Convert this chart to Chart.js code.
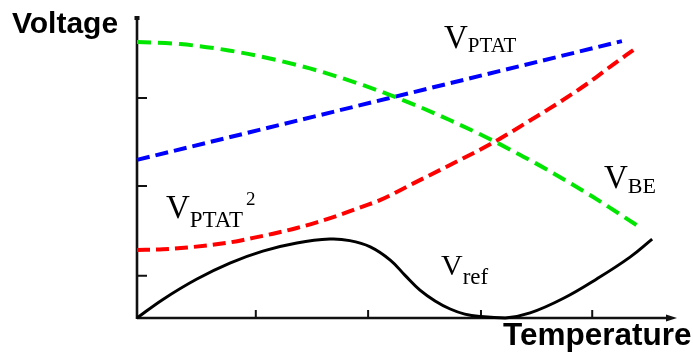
<!DOCTYPE html>
<html><head><meta charset="utf-8">
<script src="https://cdn.jsdelivr.net/npm/chart.js@4"></script>
<style>html,body{margin:0;padding:0;background:#fff;overflow:hidden}</style>
</head><body>
<canvas id="c" width="693" height="360"></canvas>
<script>
// Temperature (arbitrary units 0..100), Voltage (arbitrary units 0..10)
const vbeT  = [0, 8, 17, 24.6, 32, 37, 41.9, 46.9, 51.9, 58, 65.4, 70.9, 75.9, 84.4, 93.1];
const vbeV  = [9.2, 9.13, 8.92, 8.65, 8.32, 8.05, 7.76, 7.43, 7.07, 6.59, 5.96, 5.44, 4.95, 4.04, 3.03];

const ptatT = [0, 89.8];
const ptatV = [5.27, 9.23];

const ptat2T = [0, 4.8, 9.3, 13.5, 17.2, 21.5, 25.2, 29.6, 33.3, 37.6, 41.9, 45, 51.1, 58.5, 65.9, 73.3, 78.3, 83.3, 88.1, 91.9];
const ptat2V = [2.27, 2.29, 2.35, 2.43, 2.52, 2.67, 2.81, 3.0, 3.19, 3.44, 3.72, 3.93, 4.48, 5.15, 5.84, 6.64, 7.2, 7.8, 8.44, 8.93];

const vrefT = [0, 4.8, 11.1, 17.2, 23.3, 29.6, 35.7, 39.4, 43.2, 46.9, 49.6, 52.4, 55.2, 58, 60.7, 63.5, 68.2, 72.8, 78.9, 85.2, 91.3, 95.4];
const vrefV = [0, 0.62, 1.3, 1.83, 2.23, 2.5, 2.63, 2.58, 2.37, 1.93, 1.43, 0.93, 0.57, 0.3, 0.13, 0.05, 0, 0.17, 0.65, 1.31, 2.03, 2.63];

const xTicks = [22, 42.8, 63.7, 84.3];
const yTicks = [1.41, 4.4, 7.33];

const pts = (xs, ys) => xs.map((x, i) => ({x: x, y: ys[i]}));

const axesPlugin = {
  id: 'axes',
  beforeDatasetsDraw(chart) {
    const {ctx, chartArea: a, scales} = chart;
    ctx.save();
    ctx.strokeStyle = '#111';
    ctx.fillStyle = '#111';
    ctx.lineWidth = 2.6;
    ctx.lineCap = 'butt';
    ctx.beginPath();
    ctx.moveTo(a.left, a.top - 1);
    ctx.lineTo(a.left, a.bottom + 1);
    ctx.moveTo(a.left, a.bottom);
    ctx.lineTo(a.right - 8, a.bottom);
    ctx.stroke();
    ctx.fillRect(a.left - 2.5, a.top - 2, 5, 4);
    ctx.beginPath();
    ctx.moveTo(a.right, a.bottom);
    ctx.lineTo(a.right - 11, a.bottom - 3.5);
    ctx.lineTo(a.right - 11, a.bottom + 3.5);
    ctx.closePath();
    ctx.fill();
    ctx.lineWidth = 2;
    ctx.beginPath();
    yTicks.forEach(v => {
      const y = scales.y.getPixelForValue(v);
      ctx.moveTo(a.left, y);
      ctx.lineTo(a.left + 10, y);
    });
    xTicks.forEach(v => {
      const x = scales.x.getPixelForValue(v);
      ctx.moveTo(x, a.bottom);
      ctx.lineTo(x, a.bottom - 8);
    });
    ctx.stroke();
    ctx.restore();
  },
  afterDraw(chart) {
    const ctx = chart.ctx;
    ctx.save();
    ctx.fillStyle = '#000';
    ctx.textBaseline = 'alphabetic';
    ctx.textAlign = 'left';
    ctx.font = 'bold 30px "Liberation Sans", Arial, sans-serif';
    ctx.fillText('Voltage', 12, 33);
    ctx.font = 'bold 31.5px "Liberation Sans", Arial, sans-serif';
    ctx.fillText('Temperature', 503, 345);

    const serif = '"Liberation Serif", "Times New Roman", serif';
    function sub(main, mx, my, mSize, s, sSize, sDy) {
      ctx.font = mSize + 'px ' + serif;
      ctx.fillText(main, mx, my);
      const w = ctx.measureText(main).width;
      ctx.font = sSize + 'px ' + serif;
      ctx.fillText(s, mx + w, my + sDy);
      return mx + w + ctx.measureText(s).width;
    }
    sub('V', 444, 48, 33, 'PTAT', 21, 4);
    const end = sub('V', 166, 218, 33, 'PTAT', 23, 9);
    ctx.font = '19px ' + serif;
    ctx.fillText('2', end + 3, 205);
    sub('V', 604, 188, 33, 'BE', 22, 5);
    sub('V', 441, 275, 30, 'ref', 23, 9);
    ctx.restore();
  }
};

const common = {pointRadius: 0, fill: false, clip: false};

new Chart(document.getElementById('c'), {
  type: 'line',
  data: {
    datasets: [
      Object.assign({label: 'VBE', data: pts(vbeT, vbeV), borderColor: '#00e600', borderWidth: 4, borderDash: [14, 7], cubicInterpolationMode: 'monotone'}, common),
      Object.assign({label: 'VPTAT', data: pts(ptatT, ptatV), borderColor: '#0000ff', borderWidth: 4, borderDash: [13, 6]}, common),
      Object.assign({label: 'VPTAT2', data: pts(ptat2T, ptat2V), borderColor: '#ff0000', borderWidth: 4, borderDash: [13, 6], cubicInterpolationMode: 'monotone'}, common),
      Object.assign({label: 'Vref', data: pts(vrefT, vrefV), borderColor: '#000000', borderWidth: 3, tension: 0.4}, common)
    ]
  },
  options: {
    responsive: false,
    animation: false,
    layout: {padding: {left: 137, top: 18, right: 16, bottom: 42}},
    plugins: {legend: {display: false}, tooltip: {enabled: false}},
    scales: {
      x: {type: 'linear', min: 0, max: 100, display: false},
      y: {type: 'linear', min: 0, max: 10, display: false}
    }
  },
  plugins: [axesPlugin]
});
</script>
</body></html>
